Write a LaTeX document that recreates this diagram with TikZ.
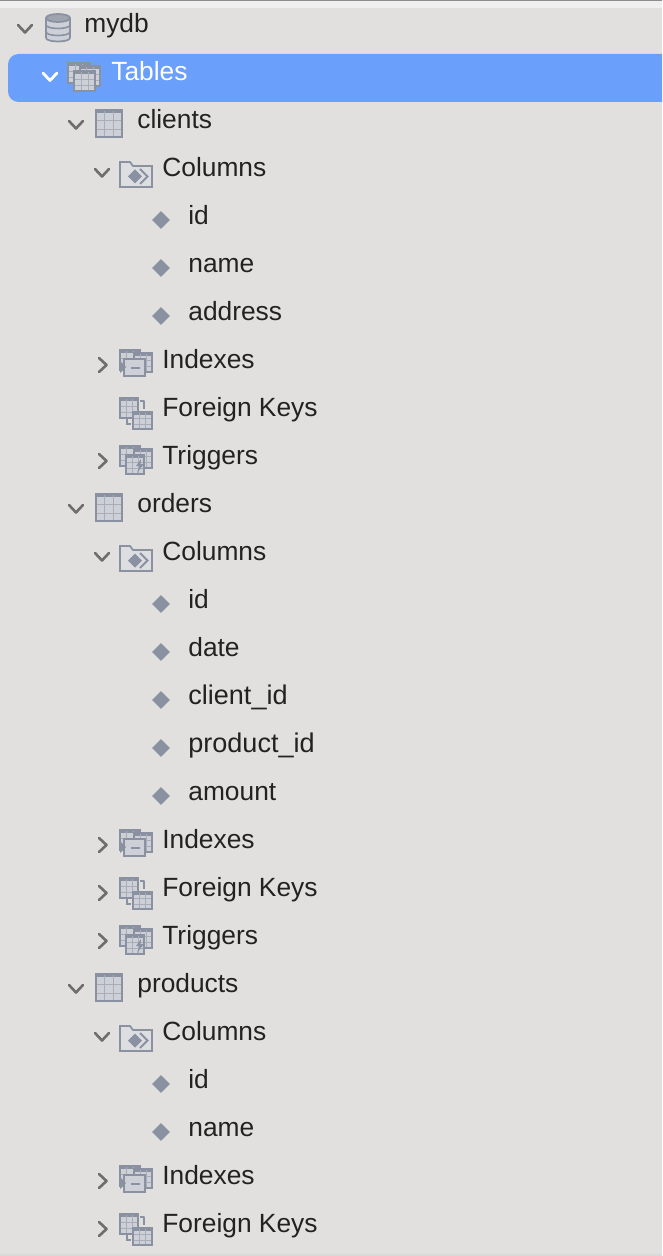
\documentclass[tikz,border=0pt]{standalone}
\usepackage{fontspec}
\setmainfont{Liberation Sans}
\usetikzlibrary{shapes.geometric, positioning}
\definecolor{panel}{HTML}{E1E0DF}
\definecolor{selected}{HTML}{6A9FFB}
\definecolor{ink}{HTML}{222222}
\definecolor{chev}{HTML}{6F6E6D}
\definecolor{iconedge}{HTML}{8A91A0}
\definecolor{iconfill}{HTML}{CDD0D6}
\definecolor{iconhead}{HTML}{9CA2AE}

% small table with a grid, corners in pixels
\newcommand{\gridbox}[4]{
  \fill[iconfill] (#1,#2) rectangle (#3,#4);
  \fill[iconedge] (#1,#2) rectangle (#3,#2+3);
  \draw[iconedge!55!iconfill, line width=0.4pt] (#1+0.333*#3-0.333*#1,#2) -- (#1+0.333*#3-0.333*#1,#4)
    (#1+0.667*#3-0.667*#1,#2) -- (#1+0.667*#3-0.667*#1,#4)
    (#1,#2+0.4*#4-0.4*#2) -- (#3,#2+0.4*#4-0.4*#2)
    (#1,#2+0.7*#4-0.7*#2) -- (#3,#2+0.7*#4-0.7*#2);
  \draw[iconedge, line width=1pt] (#1,#2) rectangle (#3,#4);
}

\begin{document}
\begin{tikzpicture}[
  x=0.02cm, y=-0.02cm,
  item/.style={anchor=base west, inner sep=0pt, yshift=0.35pt, text=ink, font=\fontsize{15}{17}\selectfont},
  wideitem/.style={item, font=\fontsize{15.4}{17}\selectfont},
  gem/.style={diamond, fill=iconedge, inner sep=0pt, minimum size=3.6mm},
  pics/open/.style={code={\draw[chev, line width=1.5pt, line cap=round, line join=round] (-7,-4) -- (0,3.5) -- (7,-4);}},
  pics/openw/.style={code={\draw[white, line width=1.6pt, line cap=round, line join=round] (-7,-4) -- (0,3.5) -- (7,-4);}},
  pics/shut/.style={code={\draw[chev, line width=1.5pt, line cap=round, line join=round] (-4,-7) -- (3.5,0) -- (-4,7);}},
  pics/dbicon/.style={code={
    \fill[iconfill] (-12,-11) -- (-12,10) arc[x radius=12, y radius=-3.5, start angle=180, end angle=360] -- (12,-11) -- cycle;
    \fill[iconedge!70!iconfill] (0,-10) ellipse[x radius=12, y radius=4];
    \draw[iconedge, line width=1pt] (0,-10) ellipse[x radius=12, y radius=4];
    \draw[iconedge, line width=1pt] (-12,-10) -- (-12,10) (12,-10) -- (12,10);
    \draw[iconedge, line width=1pt] (-12,10) arc[x radius=12, y radius=-3.5, start angle=180, end angle=360];
    \draw[iconedge, line width=0.9pt] (-12,-3) arc[x radius=12, y radius=-3.5, start angle=180, end angle=360];
    \draw[iconedge, line width=0.9pt] (-12,4) arc[x radius=12, y radius=-3.5, start angle=180, end angle=360];
  }},
  pics/tableicon/.style={code={\gridbox{-13}{-14}{13}{13}}},
  pics/tablesicon/.style={code={\gridbox{-16}{-14}{6}{6}\gridbox{-4}{-11}{16}{9}\gridbox{-10}{-6}{11}{14}}},
  pics/colicon/.style={code={
    \fill[iconfill!70!white] (-16,-10) -- (-6,-10) -- (-3,-6) -- (16,-6) -- (16,15) -- (-16,15) -- cycle;
    \draw[iconedge, line width=1pt] (-16,-10) -- (-6,-10) -- (-3,-6) -- (16,-6) -- (16,15) -- (-16,15) -- cycle;
    \fill[iconedge] (-8,4.5) -- (-1,-2.5) -- (6,4.5) -- (-1,11.5) -- cycle;
    \draw[iconedge, line width=1.1pt] (4,-3) -- (11.5,4.5) -- (4,12);
  }},
  pics/idxicon/.style={code={
    \gridbox{-16}{-14}{4}{6}\gridbox{-2}{-11}{16}{8}
    \fill[iconfill] (-12,-5) rectangle (9,12);
    \draw[iconedge, line width=1pt] (-12,-5) rectangle (9,12);
    \fill[iconedge] (-16,-3) -- (-10,3) -- (-16,9) -- cycle;
    \draw[iconedge, line width=1pt] (-5,4) -- (4,4);
  }},
  pics/fkicon/.style={code={
    \gridbox{-16}{-14}{2}{6}\gridbox{-3}{0}{16}{17}
    \draw[iconedge, line width=1pt, line join=round] (4,-11) -- (8,-11) -- (8,-3);
    \draw[iconedge, line width=1pt] (-9,6) -- (-9,12) -- (-5,12);
  }},
  pics/trgicon/.style={code={
    \gridbox{-16}{-14}{4}{6}\gridbox{-2}{-11}{16}{8}\gridbox{-10}{-5}{8}{14}
    \fill[iconedge] (5,-1) -- (0,6) -- (3.5,6) -- (1,13) -- (8,4) -- (4.5,4) -- cycle;
  }},
]

% Background
\useasboundingbox (0,0) rectangle (662,1256);
\clip (0,0) rectangle (662,1256);
\fill[panel] (0,0) rectangle (662,1256);
\fill[black!45] (0,0) rectangle (662,1.5);
\fill[white!50!panel] (0,1.5) rectangle (662,8);
\fill[black!15] (0,1254) rectangle (662,1256);
\fill[selected, rounded corners=6pt] (8,54) rectangle (690,102);

% Top of the tree
\pic at (25,29) {open};
\pic at (58,28) {dbicon};
\node[item] (mydb) at (84,33) {mydb};
\pic at (50,77) {openw};
\pic at (84,77) {tablesicon};
\node[item, text=white] (tables) at (111,81) {Tables};

% clients
\pic at (76,125) {open};
\pic at (109,124) {tableicon};
\node[item] (clients) at (137,129) {clients};
\pic at (102,173) {open};
\pic at (136,172) {colicon};
\node[item] (cols1) at (162,177) {Columns};
\node[gem] (g11) at (161,220) {};
\node[item] (id1) at (188,225) {id};
\node[gem] (g12) at (161,268) {};
\node[item] (name1) at (188,273) {name};
\node[gem] (g13) at (161,316) {};
\node[item] (address1) at (188,321) {address};
\pic at (103,365) {shut};
\pic at (136,364) {idxicon};
\node[item] (idx1) at (162,369) {Indexes};
\pic at (136,412) {fkicon};
\node[item] (fk1) at (162,417) {Foreign Keys};
\pic at (103,461) {shut};
\pic at (136,460) {trgicon};
\node[item] (trg1) at (162,465) {Triggers};

% orders
\pic at (76,509) {open};
\pic at (109,508) {tableicon};
\node[item] (orders) at (137,513) {orders};
\pic at (102,557) {open};
\pic at (136,556) {colicon};
\node[item] (cols2) at (162,561) {Columns};
\node[gem] (g21) at (161,604) {};
\node[item] (id2) at (188,609) {id};
\node[gem] (g22) at (161,652) {};
\node[item] (date2) at (188,657) {date};
\node[gem] (g23) at (161,700) {};
\node[wideitem] (client2) at (188,705) {client\_id};
\node[gem] (g24) at (161,748) {};
\node[wideitem] (product2) at (188,753) {product\_id};
\node[gem] (g25) at (161,796) {};
\node[item] (amount2) at (188,801) {amount};
\pic at (103,845) {shut};
\pic at (136,844) {idxicon};
\node[item] (idx2) at (162,849) {Indexes};
\pic at (103,893) {shut};
\pic at (136,892) {fkicon};
\node[item] (fk2) at (162,897) {Foreign Keys};
\pic at (103,941) {shut};
\pic at (136,940) {trgicon};
\node[item] (trg2) at (162,945) {Triggers};

% products
\pic at (76,989) {open};
\pic at (109,988) {tableicon};
\node[item] (products) at (137,993) {products};
\pic at (102,1037) {open};
\pic at (136,1036) {colicon};
\node[item] (cols3) at (162,1041) {Columns};
\node[gem] (g31) at (161,1084) {};
\node[item] (id3) at (188,1089) {id};
\node[gem] (g32) at (161,1132) {};
\node[item] (name3) at (188,1137) {name};
\pic at (103,1181) {shut};
\pic at (136,1180) {idxicon};
\node[item] (idx3) at (162,1185) {Indexes};
\pic at (103,1229) {shut};
\pic at (136,1228) {fkicon};
\node[item] (fk3) at (162,1233) {Foreign Keys};

\end{tikzpicture}
\end{document}
